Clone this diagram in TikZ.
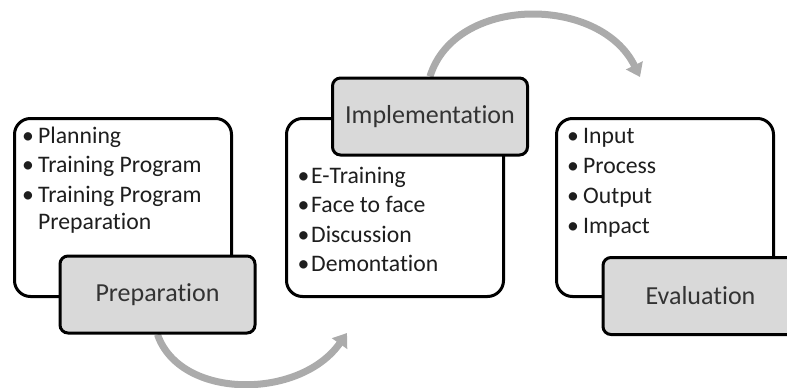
\documentclass[tikz,border=0pt]{standalone}
\usepackage{fontspec}
\setmainfont{Carlito}[Ligatures={NoCommon,NoRequired,NoContextual},Contextuals=NoAlternate,RawFeature=-ccmp]
\usetikzlibrary{arrows.meta}
\definecolor{arcgray}{HTML}{ABABAB}
\definecolor{stagefill}{HTML}{D9D9D9}
\definecolor{inktext}{HTML}{1E1E1E}
\definecolor{stagetext}{HTML}{333333}
\pgfdeclarelayer{back}
\pgfsetlayers{back,main}
% bullet (after a small lead-in kern) in a slot of the given width
\newcommand{\itembul}[2][3pt]{\makebox[#2][l]{\kern#1\textbullet}}
\begin{document}
\begin{tikzpicture}[x=1pt,y=-1pt,
  panel/.style={draw=black, line width=3pt, fill=white, rounded corners=16pt,
    minimum width=217pt, minimum height=178pt, inner sep=0pt, anchor=north west},
  stage/.style={draw=black, line width=3pt, fill=stagefill, rounded corners=8pt,
    minimum width=195pt, minimum height=77pt, inner sep=0pt,
    font=\fontsize{26}{30}\selectfont, text=stagetext},
  flow/.style={draw=arcgray, line width=7pt, -{Triangle[width=18pt,length=13pt]}},
  item/.style={anchor=base west, inner sep=0pt, text=inktext,
    font=\fontsize{23.7}{28}\selectfont}]
\useasboundingbox (0,0) rectangle (787,388);
\clip (0,0) rectangle (787,388);

% ---- list panels ----
\node[panel] (prepbox) at (13,117) {};
\node[panel] (implbox) at (285,117) {};
\node[panel] (evalbox) at (555,117) {};

% ---- stage labels ----
\node[stage] (prep) at (157.5,294.5) {Preparation};
\node[stage] (impl) at (430,116.5) {Implementation};
\node[stage] (eval) at (700.5,296) {Evaluation};

% ---- cycle arrows, kept behind the labels ----
\coordinate (toimpl) at (347,333);
\coordinate (toeval) at (640,77);
\begin{pgfonlayer}{back}
\draw[flow] (prep.south) .. controls (180,400) and (300,400) .. (toimpl);
\draw[flow] (impl.north) .. controls (455,-5) and (600,-5) .. (toeval);
\end{pgfonlayer}

% ---- Preparation items ----
\node[item] (p1) at (19,143) {\itembul{19pt}Planning};
\node[item] (p2) at (19,172.5) {\itembul{19pt}Training Program};
\node[item] (p3) at (19,202) {\itembul{19pt}Training Program};
\node[item] (p4) at (38,229) {Preparation};

% ---- Implementation items ----
\node[item] (i1) at (297,183) {\itembul[0.5pt]{14pt}E-Training};
\node[item] (i2) at (297,212.5) {\itembul[0.5pt]{14pt}Face to face};
\node[item] (i3) at (297,242) {\itembul[0.5pt]{14pt}Discussion};
\node[item] (i4) at (297,271.5) {\itembul[0.5pt]{14pt}Demontation};

% ---- Evaluation items ----
\node[item] (e1) at (564,143.5) {\itembul{19pt}Input};
\node[item] (e2) at (564,173.5) {\itembul{19pt}Process};
\node[item] (e3) at (564,203.5) {\itembul{19pt}Output};
\node[item] (e4) at (564,233.5) {\itembul{19pt}Impact};
\end{tikzpicture}
\end{document}
